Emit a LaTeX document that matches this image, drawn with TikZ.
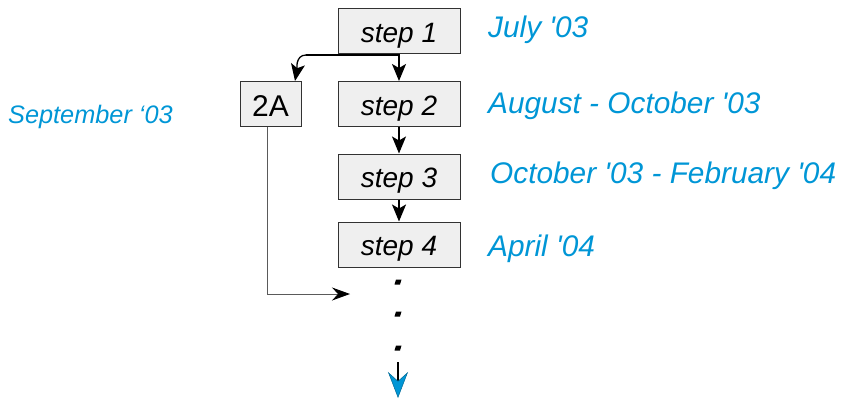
\documentclass[tikz,border=0pt]{standalone}
\usepackage{fontspec}
\setmainfont{Liberation Sans}
\usetikzlibrary{arrows.meta}
\definecolor{dateblue}{RGB}{0,150,214}
\definecolor{boxfill}{RGB}{239,239,239}
\definecolor{boxline}{RGB}{50,50,50}
\definecolor{greyline}{RGB}{90,90,90}
\tikzset{
  stepbox/.style={draw=boxline, line width=1pt, fill=boxfill, minimum width=122pt, minimum height=45pt, inner sep=0pt,
    text height=22pt, text depth=0pt, font=\fontsize{28}{28}\selectfont\itshape},
  smallbox/.style={stepbox, minimum width=61pt, text height=25pt, font=\fontsize{30}{30}\selectfont},
  datetext/.style={text=dateblue, anchor=base west, inner sep=0pt, font=\fontsize{29.8}{29.8}\selectfont\itshape},
  arr/.style={line width=1.6pt, -{Stealth[length=17pt,width=14pt,inset=4pt]}},
  greyarr/.style={draw=greyline, line width=0.9pt, -{Stealth[length=18pt,width=13pt,inset=6pt,color=black]}},
  dotbox/.style={fill=black, inner sep=0pt, minimum width=5.5pt, minimum height=5pt, xslant=0.3},
}
\begin{document}
\begin{tikzpicture}[x=1pt,y=-1pt]
\useasboundingbox (0,0) rectangle (846,400);
\node[stepbox] (s1) at (399,31) {step 1};
\node[stepbox] (s2) at (399,104) {step 2};
\node[stepbox] (s3) at (399,176.5) {step 3};
\node[stepbox] (s4) at (399,244.5) {step 4};
\node[smallbox] (a2) at (270.5,104) {2A};

\node[datetext] (t1) at (488,37.7) {July \textquotesingle 03};
\node[datetext] (t2) at (488,113.3) {August - October \textquotesingle 03};
\node[datetext] (t3) at (490,183.3) {October \textquotesingle 03 - February \textquotesingle 04};
\node[datetext] (t4) at (488,256.7) {April \textquotesingle 04};
\node[datetext, font=\fontsize{25.3}{25.3}\selectfont\itshape] (t5) at (8,123.3) {September ‘03};

\draw[arr] (s1) -- (s2);
\draw[arr] (s2) -- (s3);
\draw[arr] (s3) -- (s4);

\coordinate (br) at (399,55);
\coordinate (bc) at (306,55);
\coordinate (bt) at (295,81);
\draw[line width=1.3pt] (br) -- (bc);
\draw[arr, line width=1.3pt] (bc) to[out=180,in=80] (bt);

\coordinate (ge) at (350,294);
\draw[greyarr] ([xshift=-3.5pt]a2.south) |- (ge);

\node[dotbox] (d1) at (398,282) {};
\node[dotbox] (d2) at (398,314) {};
\node[dotbox] (d3) at (398,348) {};

\coordinate (bs) at (398,362);
\coordinate (be) at (398,398);
\draw[line width=1.2pt, draw=black, -{Stealth[length=26pt,width=20pt,inset=9pt,fill=dateblue,color=dateblue!70!black,line width=0.5pt]}] (bs) -- (be);
\draw[line width=1.4pt] (bs) -- (398,379);
\end{tikzpicture}
\end{document}
